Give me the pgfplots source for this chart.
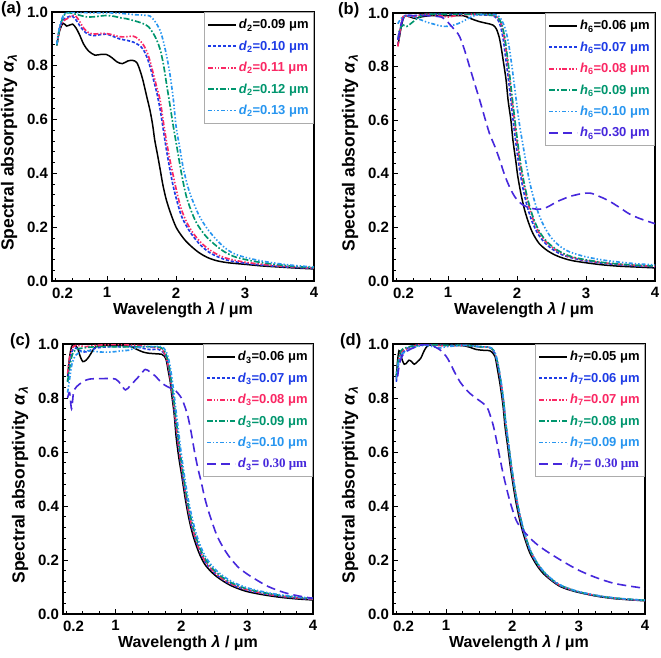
\documentclass[border=0pt]{standalone}
\usepackage{fontspec}
\setmainfont{Liberation Sans}
\newfontfamily\serifb{Liberation Serif}
\usepackage{pgfplots}
\pgfplotsset{compat=1.18}
\definecolor{cblue}{RGB}{30,60,230}
\definecolor{cred}{RGB}{250,40,100}
\definecolor{cgreen}{RGB}{0,150,110}
\definecolor{clblue}{RGB}{40,150,240}
\definecolor{cpurple}{RGB}{70,40,220}
\tikzset{
  t1/.style={draw=black, solid, line width=1.5pt},
  t2/.style={draw=cblue, line width=1.65pt, dash pattern=on 3.2pt off 1.8pt},
  t3/.style={draw=cred, line width=1.65pt, dash pattern=on 5pt off 1.8pt on 1.4pt off 1.8pt on 1.4pt off 1.8pt},
  t4/.style={draw=cgreen, line width=1.65pt, dash pattern=on 6pt off 2pt on 1.6pt off 2pt},
  t5/.style={draw=clblue, line width=1.65pt, dash pattern=on 4pt off 2pt on 1.4pt off 2pt on 1.4pt off 2pt},
  t6/.style={draw=cpurple, line width=1.6pt, dash pattern=on 9pt off 5pt},
}
\pgfplotsset{
  panel/.style={
    scale only axis, xmin=0.2, xmax=4, ymin=0, ymax=1,
    xtick={0.2,1,2,3,4}, xticklabels={\makebox[0pt][l]{0.2},1,2,3,4},
    minor xtick={0.25,0.5,0.75,1.25,1.5,1.75,2.25,2.5,2.75,3.25,3.5,3.75},
    ytick={0,0.2,0.4,0.6,0.8,1}, yticklabels={0.0,0.2,0.4,0.6,0.8,1.0},
    minor ytick={0.04,0.08,0.12,0.16,0.24,0.28,0.32,0.36,0.44,0.48,0.52,0.56,0.64,0.68,0.72,0.76,0.84,0.88,0.92,0.96},
    tick align=inside, xtick pos=bottom, ytick pos=left,
    major tick length=5pt, minor tick length=3pt,
    axis line style={line width=1.2pt},
    every tick/.style={black, line width=0.9pt},
    /pgf/number format/assume math mode=true,
    ticklabel style={font=\fontsize{15}{15}\selectfont\bfseries},
    xticklabel style={yshift=-3pt},
    yticklabel style={xshift=-0.5pt},
    xlabel={Wavelength \textit{λ} / μm},
    ylabel={Spectral absorptivity \textit{α}\textsubscript{\textit{λ}}},
    every axis x label/.style={at={(axis description cs:0.5,0)}, yshift=-29pt, anchor=center, font=\fontsize{16}{18}\selectfont\bfseries},
    every axis y label/.style={at={(axis description cs:0,0.5)}, xshift=-43pt, yshift=-6pt, anchor=center, rotate=90, font=\fontsize{17.5}{18}\selectfont\bfseries},
    legend style={at={(1,1)}, anchor=north east, draw=gray!65, line width=0.8pt,
      font=\fontsize{13}{14}\selectfont\bfseries, fill=white,
      row sep=6.5pt, inner xsep=3pt, inner ysep=5pt},
    legend cell align=left,
    no markers, smooth,
  },
  s1/.style={color=black, t1, legend image code/.code={\draw[t1] (0pt,0pt) -- (28pt,0pt);}},
  s2/.style={color=cblue, t2, legend image code/.code={\draw[t2] (0pt,0pt) -- (28pt,0pt);}},
  s3/.style={color=cred, t3, legend image code/.code={\draw[t3] (0pt,0pt) -- (28pt,0pt);}},
  s4/.style={color=cgreen, t4, legend image code/.code={\draw[t4] (0pt,0pt) -- (28pt,0pt);}},
  s5/.style={color=clblue, t5, legend image code/.code={\draw[t5] (0pt,0pt) -- (28pt,0pt);}},
  s6/.style={color=cpurple, t6, legend image code/.code={\draw[t6] (0pt,0pt) -- (28pt,0pt);}},
}
\begin{document}
\begin{tikzpicture}
\useasboundingbox (0pt,-657pt) rectangle (661pt,0pt);
% ---------------- (a)
\begin{axis}[panel, anchor=north west, at={(52pt,-12pt)}, width=262pt, height=269pt]
\addplot[s1] coordinates {(0.27,0.877)(0.31,0.93)(0.36,0.958)(0.41,0.948)(0.46,0.952)(0.50,0.955)(0.55,0.94)(0.60,0.915)(0.66,0.88)(0.73,0.855)(0.82,0.84)(0.90,0.842)(0.99,0.842)(1.07,0.83)(1.14,0.815)(1.22,0.808)(1.30,0.818)(1.37,0.82)(1.43,0.812)(1.48,0.78)(1.52,0.745)(1.57,0.69)(1.62,0.636)(1.66,0.58)(1.69,0.524)(1.73,0.47)(1.77,0.413)(1.81,0.355)(1.86,0.30)(1.93,0.245)(2.00,0.20)(2.08,0.168)(2.15,0.146)(2.25,0.122)(2.34,0.104)(2.45,0.088)(2.58,0.076)(2.75,0.068)(3.00,0.062)(3.25,0.056)(3.50,0.052)(3.75,0.048)(4.00,0.045)};
\addlegendentry{\textit{d}\textsubscript{2}=0.09 μm}
\addplot[s2] coordinates {(0.27,0.88)(0.31,0.94)(0.36,0.97)(0.42,0.98)(0.49,0.985)(0.55,0.97)(0.60,0.95)(0.66,0.93)(0.72,0.918)(0.80,0.912)(0.88,0.915)(0.99,0.918)(1.08,0.91)(1.18,0.90)(1.28,0.895)(1.38,0.888)(1.46,0.877)(1.52,0.862)(1.58,0.83)(1.63,0.79)(1.67,0.75)(1.72,0.70)(1.77,0.636)(1.81,0.57)(1.86,0.487)(1.91,0.415)(1.96,0.35)(2.02,0.29)(2.08,0.24)(2.16,0.20)(2.25,0.165)(2.36,0.132)(2.49,0.105)(2.65,0.085)(2.80,0.074)(3.00,0.066)(3.25,0.059)(3.50,0.054)(3.75,0.050)(4.00,0.047)};
\addlegendentry{\textcolor{cblue}{\textit{d}\textsubscript{2}=0.10 μm}}
\addplot[s3] coordinates {(0.27,0.875)(0.31,0.935)(0.36,0.965)(0.42,0.975)(0.48,0.985)(0.54,0.986)(0.60,0.965)(0.66,0.94)(0.72,0.925)(0.80,0.918)(0.90,0.92)(0.99,0.92)(1.08,0.915)(1.18,0.908)(1.28,0.908)(1.38,0.91)(1.45,0.9)(1.52,0.88)(1.58,0.85)(1.63,0.81)(1.67,0.77)(1.72,0.72)(1.77,0.67)(1.81,0.6)(1.86,0.52)(1.91,0.45)(1.96,0.39)(2.02,0.32)(2.08,0.264)(2.16,0.215)(2.25,0.177)(2.36,0.143)(2.49,0.115)(2.65,0.092)(2.80,0.08)(3.00,0.07)(3.25,0.062)(3.50,0.056)(3.75,0.052)(4.00,0.048)};
\addlegendentry{\textcolor{cred}{\textit{d}\textsubscript{2}=0.11 μm}}
\addplot[s4] coordinates {(0.27,0.875)(0.31,0.94)(0.36,0.98)(0.41,0.997)(0.50,0.995)(0.60,0.988)(0.70,0.982)(0.80,0.982)(0.90,0.985)(0.99,0.987)(1.10,0.984)(1.20,0.978)(1.28,0.975)(1.40,0.967)(1.52,0.957)(1.60,0.945)(1.67,0.92)(1.72,0.895)(1.77,0.86)(1.82,0.80)(1.86,0.735)(1.91,0.655)(1.96,0.574)(2.01,0.50)(2.06,0.425)(2.10,0.37)(2.15,0.313)(2.22,0.26)(2.30,0.214)(2.42,0.17)(2.54,0.14)(2.68,0.112)(2.83,0.092)(3.00,0.08)(3.25,0.068)(3.50,0.06)(3.75,0.054)(4.00,0.05)};
\addlegendentry{\textcolor{cgreen}{\textit{d}\textsubscript{2}=0.12 μm}}
\addplot[s5] coordinates {(0.27,0.88)(0.31,0.945)(0.36,0.985)(0.42,0.998)(0.60,0.998)(0.80,0.997)(1.00,0.997)(1.20,0.995)(1.40,0.99)(1.55,0.988)(1.62,0.985)(1.68,0.97)(1.72,0.955)(1.77,0.93)(1.81,0.896)(1.86,0.84)(1.91,0.77)(1.96,0.675)(2.00,0.574)(2.05,0.50)(2.10,0.425)(2.15,0.37)(2.20,0.326)(2.27,0.28)(2.34,0.24)(2.45,0.195)(2.58,0.155)(2.70,0.125)(2.83,0.103)(3.00,0.088)(3.25,0.074)(3.50,0.064)(3.75,0.057)(4.00,0.052)};
\addlegendentry{\textcolor{clblue}{\textit{d}\textsubscript{2}=0.13 μm}}
\end{axis}
% ---------------- (b)
\begin{axis}[panel, anchor=north west, at={(393pt,-13pt)}, width=262pt, height=268pt]
\addplot[s1] coordinates {(0.27,0.877)(0.30,0.92)(0.32,0.95)(0.35,0.98)(0.38,0.99)(0.45,0.985)(0.52,0.98)(0.60,0.985)(0.73,0.99)(0.90,0.99)(1.05,0.99)(1.22,0.99)(1.30,0.982)(1.36,0.976)(1.45,0.968)(1.55,0.962)(1.65,0.955)(1.70,0.94)(1.74,0.91)(1.77,0.87)(1.80,0.82)(1.84,0.75)(1.87,0.673)(1.91,0.6)(1.94,0.524)(1.98,0.45)(2.01,0.39)(2.06,0.32)(2.11,0.264)(2.17,0.215)(2.23,0.177)(2.32,0.14)(2.43,0.115)(2.55,0.097)(2.67,0.085)(2.80,0.076)(3.00,0.068)(3.25,0.060)(3.50,0.055)(3.75,0.052)(4.00,0.049)};
\addlegendentry{\textit{h}\textsubscript{6}=0.06 μm}
\addplot[s2] coordinates {(0.27,0.88)(0.30,0.93)(0.33,0.97)(0.37,0.99)(0.50,0.99)(0.70,0.995)(1.00,0.995)(1.30,0.995)(1.50,0.993)(1.65,0.99)(1.72,0.975)(1.76,0.95)(1.80,0.90)(1.84,0.82)(1.88,0.74)(1.92,0.65)(1.96,0.56)(2.00,0.48)(2.04,0.41)(2.09,0.34)(2.15,0.275)(2.22,0.22)(2.30,0.177)(2.40,0.143)(2.52,0.117)(2.65,0.098)(2.80,0.086)(3.00,0.075)(3.25,0.066)(3.50,0.06)(3.75,0.056)(4.00,0.053)};
\addlegendentry{\textcolor{cblue}{\textit{h}\textsubscript{6}=0.07 μm}}
\addplot[s3] coordinates {(0.27,0.875)(0.30,0.93)(0.33,0.975)(0.36,0.99)(0.45,0.985)(0.55,0.99)(0.70,0.995)(0.90,0.99)(1.00,0.985)(1.10,0.99)(1.30,0.995)(1.50,0.995)(1.68,0.99)(1.74,0.975)(1.78,0.95)(1.82,0.9)(1.86,0.82)(1.90,0.735)(1.94,0.645)(1.98,0.56)(2.02,0.48)(2.06,0.41)(2.11,0.345)(2.17,0.28)(2.24,0.225)(2.32,0.18)(2.42,0.146)(2.54,0.12)(2.67,0.10)(2.80,0.088)(3.00,0.077)(3.25,0.068)(3.50,0.062)(3.75,0.058)(4.00,0.055)};
\addlegendentry{\textcolor{cred}{\textit{h}\textsubscript{6}=0.08 μm}}
\addplot[s4] coordinates {(0.27,0.9)(0.30,0.94)(0.35,0.955)(0.40,0.95)(0.48,0.965)(0.58,0.985)(0.70,0.995)(1.00,0.995)(1.30,0.995)(1.50,0.995)(1.68,0.99)(1.74,0.977)(1.78,0.955)(1.82,0.91)(1.86,0.835)(1.90,0.75)(1.94,0.66)(1.98,0.575)(2.02,0.495)(2.06,0.425)(2.11,0.355)(2.17,0.29)(2.24,0.232)(2.32,0.186)(2.42,0.15)(2.54,0.123)(2.67,0.103)(2.80,0.09)(3.00,0.079)(3.25,0.069)(3.50,0.063)(3.75,0.059)(4.00,0.056)};
\addlegendentry{\textcolor{cgreen}{\textit{h}\textsubscript{6}=0.09 μm}}
\addplot[s5] coordinates {(0.27,0.96)(0.32,0.98)(0.40,0.99)(0.50,0.985)(0.60,0.975)(0.70,0.965)(0.80,0.958)(0.88,0.952)(0.96,0.95)(1.05,0.953)(1.12,0.958)(1.20,0.967)(1.31,0.982)(1.40,0.992)(1.55,0.995)(1.70,0.993)(1.76,0.98)(1.80,0.96)(1.84,0.93)(1.88,0.88)(1.92,0.81)(1.96,0.73)(2.00,0.65)(2.04,0.575)(2.09,0.5)(2.14,0.425)(2.19,0.36)(2.25,0.3)(2.32,0.245)(2.40,0.2)(2.50,0.16)(2.62,0.13)(2.75,0.11)(2.90,0.097)(3.00,0.09)(3.25,0.078)(3.50,0.07)(3.75,0.064)(4.00,0.06)};
\addlegendentry{\textcolor{clblue}{\textit{h}\textsubscript{6}=0.10 μm}}
\addplot[s6] coordinates {(0.27,0.9)(0.32,0.96)(0.38,0.99)(0.50,0.99)(0.70,0.99)(0.90,0.985)(0.98,0.97)(1.05,0.95)(1.12,0.93)(1.17,0.91)(1.24,0.86)(1.31,0.80)(1.38,0.74)(1.46,0.673)(1.53,0.61)(1.60,0.55)(1.68,0.50)(1.75,0.45)(1.80,0.41)(1.85,0.375)(1.91,0.34)(1.97,0.313)(2.03,0.295)(2.09,0.283)(2.16,0.275)(2.23,0.27)(2.30,0.268)(2.38,0.27)(2.47,0.28)(2.57,0.295)(2.66,0.305)(2.76,0.315)(2.88,0.323)(3.00,0.328)(3.08,0.327)(3.15,0.32)(3.27,0.307)(3.39,0.29)(3.51,0.27)(3.63,0.25)(3.75,0.236)(3.88,0.224)(4.00,0.214)};
\addlegendentry{\textcolor{cpurple}{\textit{h}\textsubscript{6}=0.30 μm}}
\end{axis}
% ---------------- (c)
\begin{axis}[panel, anchor=north west, at={(63pt,-344pt)}, width=250pt, height=270pt]
\addplot[s1] coordinates {(0.27,0.88)(0.30,0.95)(0.33,0.99)(0.37,0.998)(0.42,0.985)(0.46,0.955)(0.50,0.935)(0.55,0.94)(0.60,0.955)(0.65,0.975)(0.70,0.99)(0.80,0.995)(1.00,0.995)(1.20,0.993)(1.28,0.985)(1.35,0.977)(1.42,0.97)(1.50,0.966)(1.60,0.964)(1.70,0.962)(1.74,0.955)(1.77,0.94)(1.80,0.9)(1.83,0.86)(1.85,0.817)(1.89,0.74)(1.92,0.656)(1.96,0.58)(2.00,0.52)(2.05,0.44)(2.10,0.37)(2.15,0.315)(2.20,0.272)(2.27,0.225)(2.35,0.186)(2.45,0.157)(2.55,0.136)(2.68,0.115)(2.80,0.1)(3.00,0.083)(3.25,0.071)(3.50,0.062)(3.75,0.056)(4.00,0.052)};
\addlegendentry{\textit{d}\textsubscript{3}=0.06 μm}
\addplot[s2] coordinates {(0.27,0.86)(0.30,0.93)(0.34,0.975)(0.40,0.985)(0.50,0.97)(0.60,0.975)(0.70,0.985)(0.90,0.99)(1.10,0.99)(1.30,0.99)(1.50,0.98)(1.65,0.98)(1.72,0.97)(1.76,0.955)(1.80,0.92)(1.84,0.86)(1.88,0.78)(1.92,0.69)(1.96,0.61)(2.00,0.54)(2.05,0.46)(2.10,0.39)(2.15,0.33)(2.21,0.28)(2.28,0.232)(2.36,0.193)(2.46,0.162)(2.56,0.14)(2.68,0.12)(2.80,0.105)(3.00,0.088)(3.25,0.075)(3.50,0.066)(3.75,0.059)(4.00,0.054)};
\addlegendentry{\textcolor{cblue}{\textit{d}\textsubscript{3}=0.07 μm}}
\addplot[s3] coordinates {(0.27,0.89)(0.30,0.95)(0.34,0.985)(0.40,0.995)(0.55,0.99)(0.70,0.995)(1.00,0.998)(1.30,0.995)(1.50,0.99)(1.65,0.985)(1.72,0.975)(1.76,0.955)(1.80,0.92)(1.84,0.86)(1.88,0.785)(1.92,0.70)(1.96,0.62)(2.00,0.55)(2.05,0.465)(2.10,0.395)(2.15,0.335)(2.21,0.283)(2.28,0.235)(2.36,0.196)(2.46,0.165)(2.56,0.142)(2.68,0.122)(2.80,0.107)(3.00,0.09)(3.25,0.076)(3.50,0.067)(3.75,0.06)(4.00,0.055)};
\addlegendentry{\textcolor{cred}{\textit{d}\textsubscript{3}=0.08 μm}}
\addplot[s4] coordinates {(0.27,0.86)(0.30,0.91)(0.34,0.96)(0.40,0.98)(0.50,0.985)(0.70,0.99)(1.00,0.99)(1.20,0.99)(1.40,0.99)(1.60,0.99)(1.70,0.985)(1.75,0.97)(1.80,0.935)(1.84,0.875)(1.88,0.80)(1.92,0.72)(1.96,0.64)(2.00,0.565)(2.05,0.48)(2.10,0.41)(2.15,0.35)(2.21,0.295)(2.28,0.245)(2.36,0.205)(2.46,0.172)(2.56,0.148)(2.68,0.127)(2.80,0.111)(3.00,0.093)(3.25,0.079)(3.50,0.069)(3.75,0.062)(4.00,0.057)};
\addlegendentry{\textcolor{cgreen}{\textit{d}\textsubscript{3}=0.09 μm}}
\addplot[s5] coordinates {(0.27,0.82)(0.30,0.87)(0.34,0.93)(0.40,0.96)(0.50,0.975)(0.60,0.975)(0.70,0.972)(0.80,0.97)(0.90,0.97)(1.00,0.972)(1.10,0.975)(1.20,0.977)(1.30,0.985)(1.40,0.99)(1.55,0.99)(1.70,0.99)(1.76,0.975)(1.80,0.95)(1.84,0.9)(1.88,0.83)(1.92,0.75)(1.96,0.67)(2.00,0.59)(2.05,0.505)(2.10,0.43)(2.15,0.37)(2.21,0.31)(2.28,0.258)(2.36,0.215)(2.46,0.18)(2.56,0.155)(2.68,0.133)(2.80,0.116)(3.00,0.097)(3.25,0.082)(3.50,0.071)(3.75,0.064)(4.00,0.058)};
\addlegendentry{\textcolor{clblue}{\textit{d}\textsubscript{3}=0.10 μm}}
\addplot[s6] coordinates {(0.27,0.8)(0.30,0.82)(0.33,0.76)(0.36,0.82)(0.40,0.84)(0.50,0.86)(0.60,0.87)(0.80,0.872)(1.00,0.87)(1.08,0.85)(1.15,0.83)(1.22,0.845)(1.30,0.866)(1.38,0.887)(1.45,0.906)(1.52,0.897)(1.60,0.882)(1.70,0.856)(1.78,0.843)(1.85,0.835)(1.92,0.825)(2.00,0.8)(2.05,0.77)(2.10,0.73)(2.15,0.67)(2.20,0.6)(2.25,0.54)(2.30,0.49)(2.35,0.435)(2.40,0.39)(2.48,0.33)(2.55,0.285)(2.65,0.24)(2.75,0.205)(2.87,0.172)(3.00,0.148)(3.15,0.125)(3.30,0.104)(3.45,0.089)(3.60,0.077)(3.80,0.066)(4.00,0.058)};
\addlegendentry{\textcolor{cpurple}{\textit{d}\textsubscript{3}= {\serifb\bfseries 0.30 μm}}}
\end{axis}
% ---------------- (d)
\begin{axis}[panel, anchor=north west, at={(393pt,-344pt)}, width=252pt, height=270pt]
\addplot[s1] coordinates {(0.25,0.88)(0.27,0.94)(0.29,0.975)(0.31,0.965)(0.34,0.94)(0.37,0.925)(0.40,0.928)(0.44,0.94)(0.48,0.935)(0.52,0.925)(0.57,0.935)(0.62,0.948)(0.67,0.975)(0.72,0.993)(0.80,0.997)(1.00,0.997)(1.20,0.995)(1.30,0.992)(1.36,0.988)(1.45,0.98)(1.55,0.977)(1.66,0.975)(1.71,0.965)(1.74,0.953)(1.78,0.9)(1.82,0.842)(1.86,0.77)(1.89,0.693)(1.93,0.62)(1.97,0.545)(2.01,0.48)(2.05,0.42)(2.10,0.36)(2.15,0.31)(2.21,0.262)(2.27,0.223)(2.37,0.18)(2.47,0.149)(2.60,0.122)(2.72,0.102)(2.85,0.09)(3.00,0.08)(3.25,0.067)(3.50,0.058)(3.75,0.053)(4.00,0.049)};
\addlegendentry{\textit{h}\textsubscript{7}=0.05 μm}
\addplot[s2] coordinates {(0.25,0.86)(0.28,0.92)(0.32,0.96)(0.38,0.975)(0.45,0.99)(0.55,0.995)(0.70,0.998)(1.00,0.995)(1.30,0.995)(1.50,0.99)(1.65,0.988)(1.71,0.975)(1.75,0.955)(1.79,0.91)(1.83,0.85)(1.87,0.775)(1.90,0.70)(1.94,0.625)(1.98,0.55)(2.02,0.485)(2.06,0.425)(2.11,0.365)(2.16,0.315)(2.22,0.266)(2.28,0.227)(2.38,0.183)(2.48,0.152)(2.60,0.125)(2.72,0.105)(2.85,0.092)(3.00,0.081)(3.25,0.068)(3.50,0.059)(3.75,0.054)(4.00,0.05)};
\addlegendentry{\textcolor{cblue}{\textit{h}\textsubscript{7}=0.06 μm}}
\addplot[s3] coordinates {(0.25,0.87)(0.28,0.93)(0.32,0.97)(0.38,0.98)(0.45,0.985)(0.55,0.995)(0.70,0.998)(1.00,0.993)(1.30,0.995)(1.50,0.99)(1.65,0.988)(1.71,0.977)(1.75,0.957)(1.79,0.912)(1.83,0.853)(1.87,0.778)(1.90,0.703)(1.94,0.628)(1.98,0.553)(2.02,0.488)(2.06,0.428)(2.11,0.367)(2.16,0.317)(2.22,0.268)(2.28,0.229)(2.38,0.185)(2.48,0.153)(2.60,0.126)(2.72,0.106)(2.85,0.093)(3.00,0.082)(3.25,0.069)(3.50,0.06)(3.75,0.054)(4.00,0.05)};
\addlegendentry{\textcolor{cred}{\textit{h}\textsubscript{7}=0.07 μm}}
\addplot[s4] coordinates {(0.25,0.88)(0.28,0.94)(0.32,0.975)(0.38,0.985)(0.45,0.99)(0.55,0.993)(0.70,0.998)(1.00,0.995)(1.30,0.995)(1.50,0.99)(1.65,0.988)(1.71,0.978)(1.75,0.958)(1.79,0.915)(1.83,0.856)(1.87,0.782)(1.90,0.707)(1.94,0.632)(1.98,0.557)(2.02,0.491)(2.06,0.43)(2.11,0.369)(2.16,0.319)(2.22,0.27)(2.28,0.23)(2.38,0.186)(2.48,0.154)(2.60,0.127)(2.72,0.107)(2.85,0.094)(3.00,0.082)(3.25,0.069)(3.50,0.06)(3.75,0.055)(4.00,0.051)};
\addlegendentry{\textcolor{cgreen}{\textit{h}\textsubscript{7}=0.08 μm}}
\addplot[s5] coordinates {(0.25,0.87)(0.28,0.93)(0.32,0.96)(0.38,0.97)(0.45,0.98)(0.55,0.99)(0.70,0.995)(0.90,0.985)(1.00,0.99)(1.30,0.995)(1.50,0.99)(1.65,0.988)(1.71,0.98)(1.75,0.96)(1.79,0.918)(1.83,0.86)(1.87,0.786)(1.90,0.711)(1.94,0.636)(1.98,0.56)(2.02,0.494)(2.06,0.433)(2.11,0.372)(2.16,0.322)(2.22,0.272)(2.28,0.232)(2.38,0.188)(2.48,0.156)(2.60,0.128)(2.72,0.108)(2.85,0.095)(3.00,0.083)(3.25,0.07)(3.50,0.061)(3.75,0.055)(4.00,0.051)};
\addlegendentry{\textcolor{clblue}{\textit{h}\textsubscript{7}=0.09 μm}}
\addplot[s6] coordinates {(0.27,0.88)(0.30,0.93)(0.35,0.96)(0.42,0.975)(0.50,0.985)(0.60,0.995)(0.67,0.998)(0.78,0.995)(0.91,0.978)(1.00,0.955)(1.06,0.93)(1.13,0.895)(1.21,0.86)(1.28,0.838)(1.36,0.817)(1.46,0.798)(1.56,0.78)(1.62,0.765)(1.66,0.74)(1.71,0.7)(1.76,0.644)(1.81,0.58)(1.86,0.52)(1.91,0.468)(1.96,0.42)(2.01,0.38)(2.06,0.346)(2.11,0.325)(2.16,0.31)(2.26,0.283)(2.36,0.26)(2.50,0.235)(2.66,0.21)(2.83,0.185)(3.01,0.161)(3.25,0.136)(3.51,0.115)(3.75,0.104)(4.00,0.095)};
\addlegendentry{\textcolor{cpurple}{\textit{h}\textsubscript{7}= {\serifb\bfseries 0.30 μm}}}
\end{axis}
\node[anchor=north west, font=\fontsize{16.5}{18}\selectfont\bfseries, inner sep=0pt] at (1pt,-1pt) {(a)};
\node[anchor=north west, font=\fontsize{16.5}{18}\selectfont\bfseries, inner sep=0pt] at (338pt,-2pt) {(b)};
\node[anchor=north west, font=\fontsize{16.5}{18}\selectfont\bfseries, inner sep=0pt] at (10pt,-333pt) {(c)};
\node[anchor=north west, font=\fontsize{16.5}{18}\selectfont\bfseries, inner sep=0pt] at (340pt,-333pt) {(d)};
\end{tikzpicture}
\end{document}
